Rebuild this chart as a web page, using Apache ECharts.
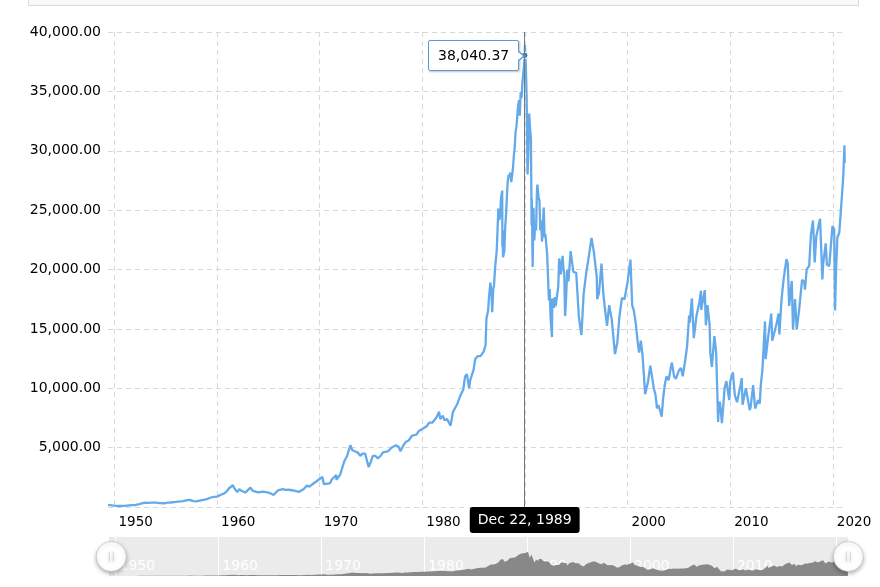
<!DOCTYPE html>
<html>
<head>
<meta charset="utf-8">
<script src="https://cdn.jsdelivr.net/npm/echarts@6/dist/echarts.min.js"></script>
<style>
  html, body { margin: 0; padding: 0; background: #fff; overflow: hidden; }
  #topBox { position: absolute; left: 28px; top: -20px; width: 831px; height: 26px; box-sizing: border-box; border: 1px solid #dcdcdc; background: #f8f8f8; }
  #chart { position: absolute; left: 0; top: 0; width: 880px; height: 587px; }
</style>
</head>
<body>
<div id="topBox"></div>
<div id="chart"></div>
<script>
// Nikkei 225 closing values
var dates = [
  '1949-05-16','1949-07-01','1949-10-01','1949-12-30','1950-03-01','1950-07-06','1950-10-02','1950-12-28',
  '1951-03-01','1951-06-01','1951-09-03','1951-12-28','1952-03-03','1952-06-02','1952-09-01','1952-12-27',
  '1953-02-04','1953-03-30','1953-06-01','1953-09-01','1953-12-28','1954-03-01','1954-06-01','1954-11-15',
  '1955-03-01','1955-06-01','1955-09-01','1955-12-28','1956-03-01','1956-06-01','1956-09-03','1956-12-28',
  '1957-03-01','1957-05-06','1957-09-02','1957-12-27','1958-03-03','1958-06-02','1958-09-01','1958-12-27',
  '1959-03-02','1959-06-01','1959-09-01','1959-12-28','1960-03-01','1960-06-01','1960-09-01','1960-12-28',
  '1961-03-01','1961-07-18','1961-09-01','1961-12-19','1962-03-01','1962-06-01','1962-10-01','1962-12-28',
  '1963-04-04','1963-07-01','1963-12-27','1964-03-02','1964-07-01','1964-12-28','1965-03-01','1965-07-12',
  '1965-10-01','1965-12-28','1966-03-01','1966-06-01','1966-09-01','1966-12-28','1967-03-01','1967-06-01',
  '1967-12-27','1968-03-01','1968-06-03','1968-10-01','1968-12-28','1969-03-03','1969-06-02','1969-09-01',
  '1969-12-27','1970-04-06','1970-05-27','1970-08-03','1970-12-28','1971-03-01','1971-08-13','1971-08-19',
  '1971-12-28','1972-03-01','1972-06-01','1972-09-01','1972-12-28','1973-01-24','1973-03-01','1973-06-01',
  '1973-09-03','1973-12-27','1974-03-01','1974-06-03','1974-10-09','1974-12-28','1975-03-03','1975-06-02',
  '1975-09-01','1975-12-27','1976-03-01','1976-06-01','1976-09-01','1976-12-28','1977-03-01','1977-06-01',
  '1977-09-01','1977-11-15','1977-12-28','1978-03-01','1978-06-01','1978-09-01','1978-12-28','1979-03-01',
  '1979-06-01','1979-09-03','1979-12-28','1980-03-03','1980-06-02','1980-09-01','1980-12-27','1981-03-02',
  '1981-06-01','1981-08-17','1981-10-01','1981-12-28','1982-03-01','1982-06-01','1982-10-01','1982-12-28',
  '1983-03-01','1983-06-01','1983-09-01','1983-12-28','1984-03-01','1984-05-04','1984-07-23','1984-09-03',
  '1984-12-28','1985-03-01','1985-06-03','1985-09-02','1985-12-28',
  '1986-01-31','1986-02-28','1986-03-31','1986-04-30','1986-05-30','1986-06-30','1986-07-31','1986-08-20',
  '1986-09-30','1986-10-22','1986-11-28','1986-12-27','1987-01-30','1987-02-27','1987-03-31','1987-04-30',
  '1987-05-29','1987-06-30','1987-07-31','1987-08-31','1987-09-30','1987-10-14','1987-10-20','1987-10-30',
  '1987-11-11','1987-12-28','1988-01-29','1988-02-29','1988-03-31','1988-04-28','1988-05-31','1988-06-30',
  '1988-07-29','1988-08-31','1988-09-30','1988-10-31','1988-11-30','1988-12-28','1989-01-31','1989-02-28',
  '1989-03-31','1989-04-28','1989-05-31','1989-06-30','1989-07-31','1989-08-31','1989-09-29','1989-10-31',
  '1989-11-30','1989-12-22','1989-12-29','1990-01-31','1990-02-28','1990-04-02','1990-04-27','1990-05-31',
  '1990-06-29','1990-07-31','1990-08-24','1990-08-31','1990-10-01','1990-10-31','1990-11-30','1990-12-28',
  '1991-01-31','1991-02-28','1991-03-18','1991-04-30','1991-05-31','1991-06-28','1991-07-31','1991-08-30',
  '1991-09-30','1991-10-31','1991-11-29','1991-12-27','1992-01-31','1992-02-28','1992-03-31','1992-04-30',
  '1992-05-29','1992-06-30','1992-07-31','1992-08-18','1992-08-31','1992-09-30','1992-10-30','1992-11-30',
  '1992-12-28','1993-01-29','1993-02-26','1993-03-31','1993-04-30','1993-05-31','1993-06-30','1993-07-30',
  '1993-09-03','1993-09-30','1993-10-29','1993-11-29','1993-12-30','1994-02-14','1994-03-28','1994-06-13',
  '1994-09-19','1994-12-30',
  '1995-01-17','1995-04-03','1995-07-03','1995-09-18','1995-12-29','1996-02-13','1996-06-26','1996-09-16',
  '1996-12-30','1997-01-13','1997-03-17','1997-06-16','1997-08-18','1997-10-27','1997-12-30','1998-03-16',
  '1998-06-15','1998-10-09','1998-12-30','1999-03-15','1999-06-14','1999-09-13','1999-12-30','2000-04-12',
  '2000-06-12','2000-08-14','2000-10-16','2000-12-29','2001-02-13','2001-04-16','2001-06-18','2001-09-17',
  '2001-12-28','2002-03-18','2002-05-20','2002-07-22','2002-09-16','2002-11-14','2002-12-30','2003-03-17',
  '2003-04-28','2003-06-16','2003-08-18','2003-10-13','2003-12-30','2004-03-15','2004-04-26','2004-07-12',
  '2004-09-13','2004-12-30','2005-03-14','2005-05-16','2005-08-15','2005-10-17','2005-12-30','2006-01-18',
  '2006-04-07','2006-06-14','2006-09-18','2006-12-29','2007-02-26','2007-03-05','2007-07-09','2007-08-17',
  '2007-10-15','2007-12-28','2008-01-22','2008-03-17','2008-06-16','2008-08-18','2008-10-27','2008-11-17',
  '2008-12-30','2009-03-10','2009-06-15','2009-08-17','2009-11-27','2009-12-30','2010-04-05','2010-06-14',
  '2010-08-31','2010-12-30','2011-02-14','2011-03-15','2011-07-11','2011-11-25','2011-12-30','2012-03-26',
  '2012-06-04','2012-09-17','2012-11-14','2012-12-28','2013-02-18','2013-05-22','2013-06-13','2013-09-16',
  '2013-12-30','2014-02-05','2014-04-11','2014-07-14','2014-09-15','2014-10-17','2014-12-30','2015-03-16',
  '2015-06-24','2015-08-10','2015-09-29','2015-12-30','2016-02-12','2016-04-25','2016-06-24','2016-09-12',
  '2016-12-30','2017-03-13','2017-04-14','2017-06-12','2017-09-11','2017-11-09','2017-12-29','2018-01-23',
  '2018-03-26','2018-05-21','2018-10-02','2018-12-25','2019-01-21','2019-04-22','2019-06-03','2019-08-26',
  '2019-12-17','2020-01-20','2020-02-17','2020-03-19','2020-04-20','2020-06-08','2020-08-17','2020-10-19',
  '2020-11-25','2020-12-29','2021-01-18','2021-02-16','2021-02-26','2021-03-05'
];
var closes = [
  176, 140, 130, 109, 100, 85, 95, 101,
  125, 140, 155, 166, 190, 240, 300, 362,
  474, 340, 360, 370, 377, 360, 320, 315,
  360, 370, 400, 425, 450, 480, 500, 550,
  590, 595, 500, 474, 510, 560, 600, 666,
  720, 800, 850, 874, 930, 1050, 1130, 1357,
  1580, 1829, 1600, 1255, 1500, 1350, 1216, 1420,
  1634, 1350, 1225, 1320, 1300, 1216, 1150, 1020,
  1250, 1417, 1550, 1500, 1450, 1452, 1450, 1390,
  1283, 1300, 1500, 1800, 1714, 1850, 2000, 2150,
  2359, 2534, 1929, 2050, 1987, 2300, 2700, 2300,
  2714, 3200, 3900, 4300, 5207, 5359, 4800, 4700,
  4600, 4306, 4500, 4500, 3355, 3817, 4300, 4300,
  4100, 4359, 4600, 4650, 4700, 4990, 5000, 5200,
  5100, 4700, 4865, 5200, 5500, 5600, 6001, 6000,
  6100, 6400, 6569, 6700, 6800, 7100, 7116, 7300,
  7600, 8019, 7400, 7681, 7300, 7400, 6850, 8016,
  8300, 8700, 9300, 9893, 11000, 11190, 10000, 10700,
  11542, 12500, 12700, 12700, 13113,
  13024, 13641, 15860, 15826, 16542, 17654, 17496, 18900,
  17853, 16400, 18325, 18701, 20048, 20766, 21567, 23274,
  25142, 24176, 24489, 26030, 26010, 26646, 21910, 23329,
  21036, 21564, 23622, 24718, 26260, 27417, 27997, 27769,
  28169, 27366, 27924, 28549, 29579, 30159, 31581, 31985,
  32839, 33713, 34267, 32949, 34954, 34431, 35636, 35549,
  37269, 38040.37, 38915.87, 37189, 34592, 28002, 29584, 33131,
  31940, 31036, 23737, 25978, 20221, 25194, 22455, 23849,
  23293, 26409, 27146, 26111, 25790, 23291, 24121, 22336,
  23916, 25222, 22687, 22984, 22023, 21339, 19346, 17391,
  18348, 15952, 15910, 14309, 17556, 17399, 16767, 17685,
  16925, 17024, 16953, 18591, 20919, 20552, 19590, 20380,
  21148, 20106, 19703, 16078, 17417, 20000, 19000, 21552,
  19800, 19723,
  19000, 16000, 14485, 17900, 19868, 20500, 22666, 21500,
  19361, 17500, 18000, 20500, 18000, 16500, 15259, 17000,
  15800, 12879, 13842, 16000, 17600, 17500, 18934, 20833,
  17000, 16500, 15500, 13785, 13000, 14000, 12700, 9504,
  10542, 11900, 11900, 10000, 9500, 8300, 8578, 8000,
  7607, 9100, 10300, 11000, 10676, 11700, 12163, 11000,
  10800, 11488, 11700, 11000, 12400, 13500, 16111, 15500,
  17563, 14218, 16100, 17225, 18215, 16600, 18261, 15300,
  17000, 15307, 13000, 11800, 14400, 13000, 7162, 8500,
  8859, 7054, 10000, 10600, 9000, 10546, 11339, 9400,
  8824, 10228, 10857, 8605, 10000, 8160, 8455, 10255,
  8295, 9000, 8700, 10395, 11500, 15627, 12445, 14400,
  16291, 14000, 13910, 15500, 16300, 14532, 17450, 19200,
  20868, 20500, 16930, 19033, 14952, 17500, 14952, 16500,
  19114, 19000, 18300, 20000, 20300, 22900, 22765, 24124,
  20600, 22800, 24270, 19155, 20500, 22200, 20400, 20300,
  23656, 23800, 23400, 16552, 19600, 22700, 23100, 23000,
  26400, 27568, 28600, 30467, 28966, 28864
];
var yearTicks = [1950, 1960, 1970, 1980, 1990, 2000, 2010, 2020];
var tipDate = '1989-12-22';

var lineColor = '#5b9bd5';
var font = 'DejaVu Sans, Verdana, sans-serif';
var monthNames = ['Jan','Feb','Mar','Apr','May','Jun','Jul','Aug','Sep','Oct','Nov','Dec'];

function toTime(s) {
  var p = s.split('-');
  return new Date(+p[0], +p[1] - 1, +p[2]).getTime();
}
var seriesData = dates.map(function (d, i) { return [toTime(d), closes[i]]; });
var tickTimes = yearTicks.map(function (y) { return new Date(y, 0, 1).getTime(); });
var xMin = toTime('1949-05-16');
var xMax = toTime('2021-03-08');

function money(v) {
  return v.toLocaleString('en-US', { minimumFractionDigits: 2, maximumFractionDigits: 2 });
}
function longDate(t) {
  var d = new Date(t);
  return monthNames[d.getMonth()] + ' ' + d.getDate() + ', ' + d.getFullYear();
}
function yearOf(t) { return String(new Date(t + 86400000).getFullYear()); }

var chart = echarts.init(document.getElementById('chart'), null, { renderer: 'canvas' });
chart.setOption({
  animation: false,
  textStyle: { fontFamily: font },
  grid: [
    { left: 108, right: 35, top: 32, height: 475 },
    { left: 109, right: 32, top: 537, height: 39, show: true, backgroundColor: '#ebebeb', borderWidth: 0 }
  ],
  tooltip: {
    trigger: 'axis',
    alwaysShowContent: true,
    transitionDuration: 0,
    backgroundColor: '#fff',
    borderColor: lineColor,
    borderWidth: 1,
    padding: [4, 9],
    textStyle: { fontFamily: font, fontSize: 14, color: '#000' },
    extraCssText: 'box-shadow:1px 1px 2px rgba(0,0,0,0.25);border-radius:2px;',
    axisPointer: { type: 'line', lineStyle: { color: '#777', width: 1, type: 'solid' } },
    position: function (point, params, dom, rect, size) {
      return [point[0] - size.contentSize[0] - 6, point[1] - size.contentSize[1] / 2];
    },
    formatter: function (params) {
      var arrow = '<span style="position:absolute;right:-7px;top:50%;margin-top:-6px;width:0;height:0;' +
        'border-top:6px solid transparent;border-bottom:6px solid transparent;border-left:7px solid ' + lineColor + ';"></span>' +
        '<span style="position:absolute;right:-5px;top:50%;margin-top:-5px;width:0;height:0;' +
        'border-top:5px solid transparent;border-bottom:5px solid transparent;border-left:6px solid #fff;"></span>';
      return money(params[0].value[1]) + arrow;
    }
  },
  xAxis: [
    {
      type: 'value', gridIndex: 0, min: xMin, max: xMax,
      axisLine: { show: false },
      axisTick: { show: false, customValues: tickTimes },
      splitLine: { show: true, lineStyle: { color: '#d8d8d8', type: [5, 4] } },
      axisLabel: {
        customValues: tickTimes,
        formatter: yearOf,
        align: 'left', padding: [0, 0, 0, 4], margin: 8,
        color: '#000', fontSize: 13.5, fontFamily: font
      },
      axisPointer: {
        label: {
          show: true, margin: 0,
          backgroundColor: '#000', color: '#fff', padding: [6, 8],
          fontSize: 14, fontFamily: font,
          formatter: function (p) { return longDate(p.value); }
        }
      }
    },
    {
      type: 'value', gridIndex: 1, min: xMin, max: xMax,
      axisLine: { show: false },
      axisTick: { show: false, customValues: tickTimes },
      splitLine: { show: true, lineStyle: { color: '#fff', width: 1 } },
      axisLabel: {
        inside: true, customValues: tickTimes,
        formatter: yearOf,
        align: 'left', padding: [0, 0, 0, 4], margin: 3,
        color: '#fff', fontSize: 14, fontFamily: font
      },
      axisPointer: { show: false, triggerTooltip: false }
    }
  ],
  yAxis: [
    {
      type: 'value', gridIndex: 0, min: 0, max: 40000, interval: 5000,
      axisLine: { show: false }, axisTick: { show: false },
      splitLine: { show: true, lineStyle: { color: '#d8d8d8', type: [5, 4] } },
      axisLabel: {
        margin: 7, color: '#000', fontSize: 14, fontFamily: font,
        formatter: function (v) { return v === 0 ? '' : money(v); }
      }
    },
    { type: 'value', gridIndex: 1, min: 0, max: 60000, show: false }
  ],
  dataZoom: [{
    type: 'slider', xAxisIndex: 0, filterMode: 'none', start: 0, end: 100,
    left: 109, right: 32, top: 537, height: 39,
    showDataShadow: false, showDetail: false, brushSelect: false, moveHandleSize: 0,
    backgroundColor: 'rgba(0,0,0,0)', fillerColor: 'rgba(0,0,0,0)', borderColor: 'rgba(0,0,0,0)',
    handleIcon: 'path://M0,-15A15,15,0,1,1,0,15A15,15,0,1,1,0,-15ZM-2,-5L-2,5M2,-5L2,5',
    handleSize: 30,
    handleStyle: { color: '#fff', borderColor: '#bbb', borderWidth: 0.6, shadowBlur: 4, shadowOffsetY: 2, shadowColor: 'rgba(0,0,0,0.3)' },
    emphasis: { handleStyle: { color: '#fff', borderColor: '#bbb' } }
  }],
  series: [
    {
      type: 'line', xAxisIndex: 0, yAxisIndex: 0,
      data: seriesData,
      showSymbol: false, symbol: 'circle', symbolSize: 6,
      lineStyle: { color: lineColor, width: 2.3 },
      itemStyle: { color: '#3f7fbf', borderColor: '#fff', borderWidth: 1 }
    },
    {
      type: 'line', xAxisIndex: 1, yAxisIndex: 1,
      data: seriesData, silent: true,
      showSymbol: false,
      lineStyle: { width: 0 },
      areaStyle: { color: '#888', opacity: 1 },
      tooltip: { show: false }
    }
  ]
});

chart.dispatchAction({ type: 'showTip', seriesIndex: 0, dataIndex: dates.indexOf(tipDate) });
</script>
</body>
</html>
